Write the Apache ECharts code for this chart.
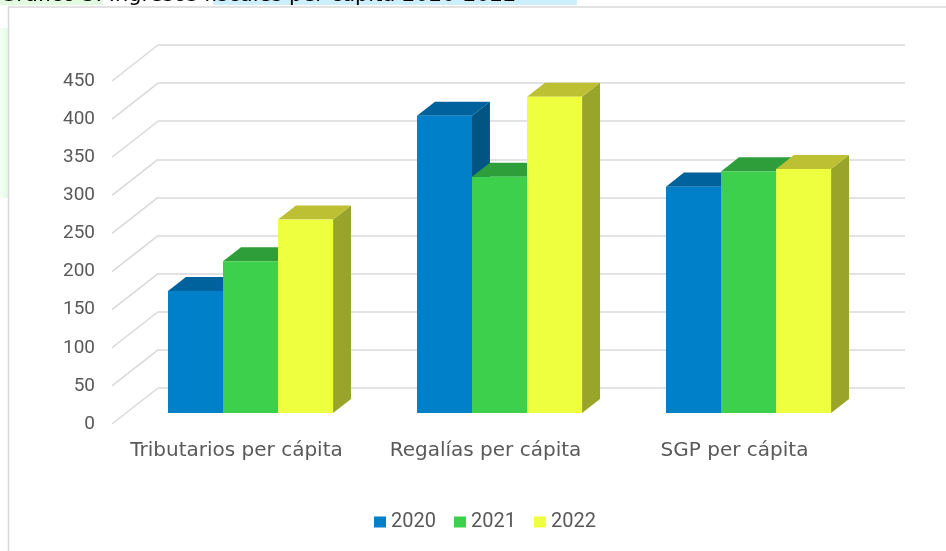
<!DOCTYPE html>
<html>
<head>
<meta charset="utf-8">
<script src="https://cdn.jsdelivr.net/npm/echarts@6/dist/echarts.min.js"></script>
<style>
html,body{margin:0;padding:0;background:#fff;}
#chart{width:946px;height:551px;}
</style>
</head>
<body>
<div id="chart"></div>
<script>
// ---- data ----
const categories = ['Tributarios per cápita', 'Regalías per cápita', 'SGP per cápita'];
const years = ['2020', '2021', '2022'];
const values2020 = [160, 390, 297];
const values2021 = [199, 310, 317];
const values2022 = [254, 415, 320];
const yTicks = [0, 50, 100, 150, 200, 250, 300, 350, 400, 450];
const titleText = 'Gráfico 3. Ingresos fiscales per cápita 2020-2022';

// ---- styles ----
const FONT = 'Roboto';
const CAT_FONT = 'DejaVu Sans';
const TEXT_COLOR = '#595959';
const GRID_COLOR = '#D9D9D9';
const faceColors = [
  { front: '#0080C8', top: '#00629C', side: '#005582' },
  { front: '#3DD04D', top: '#2E9E3A', side: '#2A8A36' },
  { front: '#EEFF40', top: '#BDC032', side: '#99A52A' }
];
const DX = 46, DY = 36;          // depth offset of the 3D box (front -> back)
const FF = 0.695, FB = 0.305;    // bar front/back depth fractions measured from back
const BAR_FRAC = 0.221;          // bar width as share of category band

const BACK = { left: 158, right: 41, top: 45, bottom: 163 };
const FRONT = { left: BACK.left - DX, right: BACK.right + DX, top: BACK.top + DY, bottom: BACK.bottom - DY };

const seriesValues = [values2020, values2021, values2022];

function barRender(params, api) {
  const s = params.seriesIndex;
  const cat = api.value(0), v = api.value(1);
  const topPt = api.coord([cat, v]);
  const basePt = api.coord([cat, 0]);
  const band = api.size([1, 0])[0];
  const bw = band * BAR_FRAC;
  const xf = topPt[0] - 1.5 * bw + s * bw - DX * FF;
  const yt = topPt[1] + DY * FF;
  const yb = basePt[1] + DY * FF;
  const ddx = DX * (FF - FB), ddy = DY * (FF - FB);
  const c = faceColors[s];
  return {
    type: 'group',
    children: [
      { type: 'polygon', shape: { points: [[xf + bw, yt], [xf + bw + ddx, yt - ddy], [xf + bw + ddx, yb - ddy], [xf + bw, yb]] },
        style: { fill: c.side } },
      { type: 'polygon', shape: { points: [[xf, yt], [xf + bw, yt], [xf + bw + ddx, yt - ddy], [xf + ddx, yt - ddy]] },
        style: { fill: c.top } },
      { type: 'rect', shape: { x: xf, y: yt, width: bw, height: yb - yt },
        style: { fill: c.front } }
    ]
  };
}

function diagRender(params, api) {
  const v = api.value(0);
  const p = api.coord([0, v]);
  const x = params.coordSys.x;
  return {
    type: 'line',
    shape: { x1: x, y1: p[1], x2: x - DX, y2: p[1] + DY },
    style: { stroke: GRID_COLOR, lineWidth: 1.5 }
  };
}

const series = seriesValues.map((vals, i) => ({
  type: 'custom',
  name: years[i],
  xAxisIndex: 0, yAxisIndex: 0,
  renderItem: barRender,
  itemStyle: { color: faceColors[i].front },
  data: vals.map((v, k) => [k, v]),
  z: 5
}));
series.push({
  type: 'custom',
  name: 'diag',
  xAxisIndex: 0, yAxisIndex: 0,
  renderItem: diagRender,
  data: yTicks.map(t => [t]),
  encode: { y: 0 },
  silent: true,
  z: 2
});

const chart = echarts.init(document.getElementById('chart'), null, { renderer: 'canvas' });
chart.setOption({
  animation: false,
  backgroundColor: '#fff',
  textStyle: { fontFamily: FONT },
  graphic: [
    { type: 'rect', shape: { x: 0, y: 0, width: 103, height: 5 }, style: { fill: '#E2FADF' }, z: 0 },
    { type: 'rect', shape: { x: 213, y: 0, width: 364, height: 5 }, style: { fill: '#CDEFFC' }, z: 0 },
    { type: 'text', left: 0, top: -15, style: { text: titleText, font: '21px ' + CAT_FONT, fill: '#000' }, z: 1 },
    { type: 'rect', shape: { x: 0, y: 28, width: 8, height: 170 },
      style: { fill: new echarts.graphic.LinearGradient(0, 0, 1, 0, [{ offset: 0, color: '#F4FEF5' }, { offset: 1, color: '#E4FAE7' }]) }, z: 0 },
    { type: 'rect', shape: { x: 8.5, y: 7, width: 1000, height: 700 }, style: { fill: '#fff', stroke: '#D9D9D9', lineWidth: 1.5 }, z: 0 }
  ],
  legend: {
    data: years,
    left: 369, top: 507,
    itemWidth: 12, itemHeight: 11, itemGap: 18,
    icon: 'rect',
    textStyle: { fontSize: 20, color: TEXT_COLOR, fontFamily: FONT, padding: [0, 0, 0, 0] }
  },
  grid: [
    { left: BACK.left, right: BACK.right, top: BACK.top, bottom: BACK.bottom },
    { left: FRONT.left, right: FRONT.right, top: FRONT.top, bottom: FRONT.bottom }
  ],
  xAxis: [
    { type: 'category', gridIndex: 0, data: categories, axisLine: { show: false }, axisTick: { show: false }, axisLabel: { show: false } },
    { type: 'category', gridIndex: 1, data: categories, axisLine: { show: false }, axisTick: { show: false },
      axisLabel: { interval: 0, fontSize: 20, color: TEXT_COLOR, fontFamily: CAT_FONT, margin: 17 } }
  ],
  yAxis: [
    { type: 'value', gridIndex: 0, min: 0, max: 450, interval: 50, axisLabel: { show: false },
      axisLine: { show: false }, axisTick: { show: false },
      splitLine: { lineStyle: { color: GRID_COLOR, width: 1.5 } } },
    { type: 'value', gridIndex: 1, min: 0, max: 450, interval: 50,
      axisLine: { show: false }, axisTick: { show: false }, splitLine: { show: false },
      axisLabel: { fontSize: 19, color: TEXT_COLOR, fontFamily: FONT, margin: 17 } }
  ],
  series: series
});
</script>
</body>
</html>
